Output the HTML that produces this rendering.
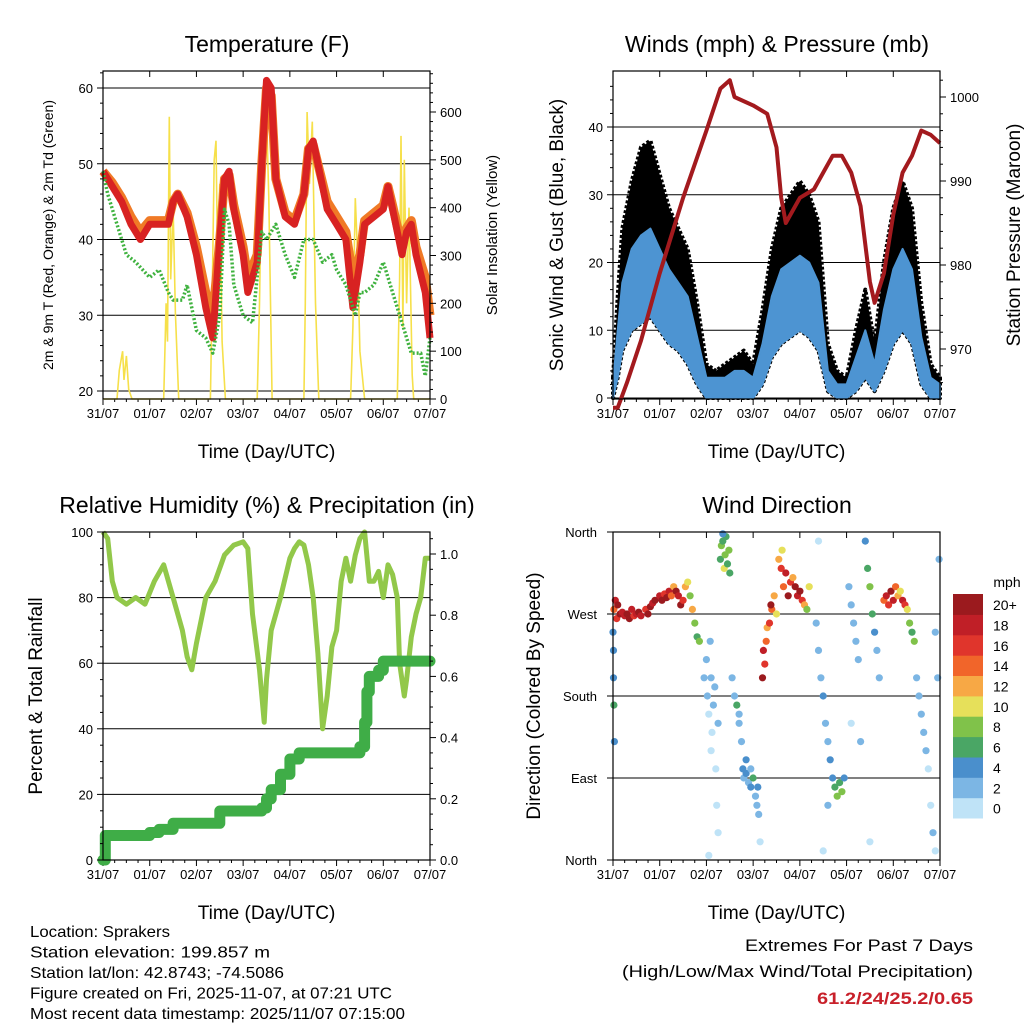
<!DOCTYPE html>
<html><head><meta charset="utf-8"><style>
body{margin:0;background:#fff}
svg{display:block;font-family:"Liberation Sans",sans-serif}
</style></head><body>
<svg id="c" width="1024" height="1024" viewBox="0 0 1024 1024"></svg>
<script>
// ---------- DATA ----------
const dayLabels=["31/07","01/07","02/07","03/07","04/07","05/07","06/07","07/07"];
const tT=[0,0.2,0.4,0.6,0.8,1.0,1.2,1.4,1.5,1.6,1.8,2.0,2.2,2.35,2.5,2.6,2.7,2.8,3.0,3.1,3.3,3.4,3.5,3.6,3.7,3.9,4.1,4.3,4.4,4.5,4.6,4.8,5.0,5.2,5.35,5.5,5.6,5.8,6.0,6.1,6.2,6.4,6.5,6.6,6.7,6.9,7.0];
const temp2m=[49,47,45,42,40,42,42,42,45,46,43,38,31,27,40,48,49,44,38,33,37,50,61,60,48,43,42,46,52,53,50,44,42,40,31,37,42,43,44,47,44,38,41,42,38,33,27];
const temp9m=[49,47.5,45.5,43,41,42.5,42.5,42.5,45,46,43.5,39,33,30,40,48,48.5,44.5,39,35,38,50,60,59,48,43.5,42.5,46,52,52.5,50,45,43,41,35,38,42.5,43.5,44.5,47,44.5,39,41.5,42.5,39,35,30];
const tD=[0,0.1,0.3,0.5,0.7,1.0,1.2,1.4,1.5,1.7,1.8,2.0,2.2,2.35,2.5,2.6,2.7,2.8,3.0,3.2,3.4,3.5,3.7,3.9,4.1,4.3,4.5,4.7,4.9,5.0,5.2,5.4,5.5,5.6,5.8,6.0,6.2,6.4,6.6,6.8,6.9,7.0];
const dewpt=[49,46,42,38,37,35,36,33,32,32,34,28,27,25,30,44,42,34,30,29,41,40,42,38,35,40,40,37,38,36,34,30,33,33,34,37,33,29,25,25,22,27];
const solarT=[0,0.3,0.35,0.42,0.45,0.5,0.55,0.62,1.3,1.35,1.38,1.42,1.45,1.5,1.55,1.62,2.3,2.35,2.38,2.42,2.45,2.5,2.55,2.62,3.3,3.35,3.4,3.45,3.5,3.55,3.62,4.3,4.33,4.37,4.42,4.48,4.55,4.62,5.3,5.35,5.4,5.45,5.5,5.6,6.3,6.35,6.38,6.42,6.45,6.5,6.55,6.62,6.65,7.0];
const solarV=[0,0,60,100,40,90,20,0,0,200,120,590,250,400,180,0,0,300,500,540,300,450,120,0,0,200,500,660,600,420,0,0,200,600,450,580,200,0,0,150,420,300,100,0,0,250,550,150,500,200,400,50,0,0];
const tW=[0,0.1,0.2,0.4,0.6,0.8,1.0,1.2,1.4,1.6,1.8,2.0,2.2,2.4,2.6,2.8,3.0,3.2,3.4,3.6,3.8,4.0,4.2,4.4,4.6,4.8,5.0,5.2,5.4,5.6,5.8,6.0,6.2,6.4,6.6,6.8,7.0];
const gust=[3,15,25,32,37,38,33,28,25,22,14,5,4,5,6,7,5,13,22,28,30,32,30,26,8,4,3,10,16,8,20,28,32,28,14,5,3];
const sonic=[2,10,17,22,24,25,22,19,17,15,9,3,3,3,4,4,3,8,15,19,20,21,20,17,4,2,2,6,10,5,13,19,22,19,9,3,2];
const sonicLow=[0,3,7,10,11,12,10,8,7,5,2,0,0,0,0,0,0,2,6,8,9,10,9,7,1,0,0,1,3,1,4,8,10,8,2,0,0];
const tP=[0,0.1,0.3,0.6,1.0,1.5,2.0,2.3,2.5,2.6,3.0,3.3,3.5,3.6,3.7,3.9,4.0,4.3,4.5,4.7,4.9,5.1,5.3,5.5,5.6,5.8,6.0,6.2,6.4,6.6,6.8,7.0];
const pressure=[963,963,966,971,979,988,996,1001,1002,1000,999,998,994,988,985,987,988,989,991,993,993,991,987,978,975.5,979,986,991,993,996,995.5,994.5];
const tRH=[0,0.1,0.2,0.3,0.5,0.7,0.9,1.1,1.3,1.5,1.7,1.8,1.9,2.0,2.2,2.4,2.6,2.8,3.0,3.1,3.2,3.35,3.45,3.5,3.6,3.8,4.0,4.1,4.2,4.3,4.4,4.5,4.6,4.7,4.8,4.9,5.0,5.1,5.2,5.3,5.4,5.5,5.6,5.7,5.8,5.9,6.0,6.1,6.2,6.3,6.35,6.45,6.5,6.6,6.7,6.8,6.9,7.0];
const rh=[100,98,85,80,78,80,78,85,90,80,70,62,58,66,80,85,93,96,97,95,75,58,42,55,70,80,92,95,97,96,90,80,63,40,50,65,70,85,92,85,93,98,100,85,85,88,80,90,87,80,60,50,55,68,75,80,92,92];
const tRain=[0,0.05,1.0,1.2,1.5,2.0,2.5,3.0,3.4,3.5,3.6,3.8,4.0,4.2,5.0,5.5,5.6,5.65,5.7,5.9,6.0,7.0];
const rain=[0,0.08,0.09,0.1,0.12,0.12,0.16,0.16,0.17,0.2,0.23,0.28,0.33,0.35,0.35,0.37,0.45,0.55,0.6,0.62,0.65,0.65];
const wdT=[0.02,0.05,0.08,0.1,0.15,0.2,0.25,0.3,0.35,0.4,0.45,0.5,0.55,0.6,0.7,0.75,0.8,0.85,0.9,1.0,1.05,1.1,1.15,1.2,1.25,1.3,1.35,1.4,1.45,1.5,1.55,1.6,1.65,1.7,1.75,1.8,1.85,0.01,0.01,0.02,0.03,0.0,1.95,2.0,2.02,2.05,2.08,2.1,2.12,2.15,2.2,2.22,2.25,2.05,2.1,2.18,2.25,2.3,2.32,2.35,2.38,2.4,2.42,2.45,2.48,2.5,2.35,2.55,2.6,2.65,2.7,2.75,2.78,2.8,2.85,2.9,2.95,3.0,3.05,3.08,3.1,3.12,2.85,2.7,2.95,3.15,3.2,3.22,3.25,3.28,3.3,3.35,3.4,3.45,3.5,3.38,3.55,3.6,3.65,3.7,3.75,3.8,3.85,3.9,3.95,4.0,4.05,4.1,4.15,4.2,3.62,4.35,4.4,4.45,4.5,4.55,4.6,4.65,4.7,4.75,4.8,4.85,4.9,4.95,4.4,4.5,4.6,5.05,5.1,5.15,5.2,5.25,5.1,5.3,5.4,5.45,5.5,5.55,5.6,5.65,5.7,5.5,5.8,5.85,5.9,5.95,6.0,6.05,6.1,6.15,6.2,6.25,6.3,6.35,6.4,6.45,6.5,6.55,6.6,6.65,6.7,6.75,6.8,6.85,6.9,6.95,6.98,6.9];
const wdDir=[275,285,265,280,270,272,268,270,265,275,268,270,272,268,275,270,278,282,285,290,285,292,288,295,290,300,295,290,280,285,300,305,290,275,260,245,240,230,200,170,130,250,200,220,180,160,240,200,140,170,100,60,30,5,120,190,150,330,345,350,320,335,355,325,340,315,358,200,180,170,150,130,100,90,95,85,80,90,70,60,80,50,110,160,100,20,200,230,215,240,255,260,275,290,270,280,330,320,300,315,290,305,310,300,290,295,285,280,275,300,340,260,230,200,180,150,130,110,90,80,70,85,75,90,350,10,60,300,280,260,240,220,150,130,350,320,300,270,250,230,200,20,285,290,280,295,285,300,290,295,285,280,275,260,250,240,200,180,160,140,120,100,60,30,10,200,330,250];
const wdSpd=[14,18,16,20,20,19,18,20,20,18,16,19,20,18,16,20,20,18,20,18,20,16,20,18,14,12,20,18,20,16,12,10,8,12,8,6,8,4,4,6,4,4,2,2,2,1,2,3,1,2,1,0,0,0,1,2,2,6,8,6,10,8,6,7,8,6,4,2,3,6,2,2,4,3,4,3,4,6,3,2,4,2,4,3,2,1,20,18,16,14,12,16,14,12,10,20,12,16,14,18,20,16,12,20,18,20,16,12,8,10,10,2,3,2,4,3,2,4,4,6,8,6,8,4,1,1,2,2,3,2,2,2,1,2,4,6,8,6,4,2,2,1,14,18,16,20,18,14,12,10,18,16,10,8,6,8,2,3,2,3,2,1,1,2,1,3,2,2];
const speedLabels=["0","2","4","6","8","10","12","14","16","18","20+"];
const speedColors=["#bfe3f7","#7cb6e4","#4a8fcc","#4aa665","#80c24a","#e6e05a","#f7a845","#f1652a","#e0352c","#c01f27","#9b1a1e"];

// ---------- HELPERS ----------
const NS="http://www.w3.org/2000/svg";
const svg=document.getElementById('c');
function el(tag,attrs,name,parent){
  const e=document.createElementNS(NS,tag);
  for(const k in attrs)e.setAttribute(k,attrs[k]);
  
  
  (parent||svg).appendChild(e);return e;
}
function txt(x,y,s,size,anchor,name,extra){
  const a=Object.assign({x:x,y:y,'font-size':size,'text-anchor':anchor||'middle',fill:'#000'},extra||{});
  const t=el('text',a,name);t.textContent=s;return t;
}
function lin(d0,d1,r0,r1){return v=>r0+(v-d0)*(r1-r0)/(d1-d0);}
function pathOf(xs,ys,fx,fy){return xs.map((t,i)=>(i?'L':'M')+fx(t).toFixed(1)+' '+fy(ys[i]).toFixed(1)).join(' ');}
function areaOf(xs,hi,lo,fx,fy){
  let d=xs.map((t,i)=>(i?'L':'M')+fx(t).toFixed(1)+' '+fy(hi[i]).toFixed(1)).join(' ');
  for(let i=xs.length-1;i>=0;i--)d+='L'+fx(xs[i]).toFixed(1)+' '+fy(lo[i]).toFixed(1);
  return d+'Z';
}
function stepPath(xs,ys,fx,fy){let d='';xs.forEach((t,i)=>{d+=(i?'L'+fx(t).toFixed(1)+' '+fy(ys[i-1]).toFixed(1)+'L':'M')+fx(t).toFixed(1)+' '+fy(ys[i]).toFixed(1);});return d;}

function panel(x0,y0,x1,y1,title,titleX,key){
  const fx=lin(0,7,x0,x1);
  for(let d=0;d<=7;d++){
    el('line',{x1:fx(d),y1:y1,x2:fx(d),y2:y1+6,stroke:'#000','stroke-width':1},key+'-x-tick');
    el('line',{x1:fx(d),y1:y0,x2:fx(d),y2:y0+6,stroke:'#000','stroke-width':1},key+'-x-tick-top');
    txt(fx(d),y1+19,dayLabels[d],13,'middle',key+'-x-tick-label');
    if(d<7)for(let m=1;m<4;m++){const xx=fx(d+m/4);
      el('line',{x1:xx,y1:y1,x2:xx,y2:y1+3,stroke:'#000'},key+'-x-minor-tick');}
  }
  txt((x0+x1)/2,y1+59,'Time (Day/UTC)',19,'middle',key+'-x-axis-title');
  txt(titleX,y0-19,title,23,'middle',key+'-title');
  return fx;
}
function box(x0,y0,x1,y1,key){el('rect',{x:x0,y:y0,width:x1-x0,height:y1-y0,fill:'none',stroke:'#000','stroke-width':1.2},key+'-plot-frame');}
function yAxis(x,fy,ticks,labels,side,key,minor){
  const s=side==='left'?-1:1;
  ticks.forEach((v,i)=>{
    el('line',{x1:x,y1:fy(v),x2:x+s*6,y2:fy(v),stroke:'#000'},key+'-tick');
    txt(x+s*10,fy(v)+5,labels[i],13,side==='left'?'end':'start',key+'-tick-label');
  });
  (minor||[]).forEach(v=>el('line',{x1:x,y1:fy(v),x2:x+s*3,y2:fy(v),stroke:'#000'},key+'-minor-tick'));
}
function grid(x0,x1,fy,ticks,key){ticks.forEach(v=>el('line',{x1:x0,x2:x1,y1:fy(v),y2:fy(v),stroke:'#000','stroke-width':1},key+'-gridline'));}

// ---------- PANEL 1: TEMPERATURE ----------
{
const X0=103,X1=430,Y0=71,Y1=399;
const fx=panel(X0,Y0,X1,Y1,'Temperature (F)',267,'temperature');
const fy=lin(20,60,391,88);
const fs=lin(0,600,399,112);
grid(X0,X1,fy,[20,30,40,50,60],'temperature');
el('path',{d:pathOf(solarT,solarV,fx,fs),fill:'none',stroke:'#f6e04a','stroke-width':1.6},'solar-insolation-line');
el('path',{d:pathOf(tT,temp9m,fx,fy),fill:'none',stroke:'#f07a26','stroke-width':9,'stroke-linejoin':'round'},'temp-9m-line');
el('path',{d:pathOf(tT,temp2m,fx,fy),fill:'none',stroke:'#d82222','stroke-width':7,'stroke-linejoin':'round'},'temp-2m-line');
el('path',{d:pathOf(tD,dewpt,fx,fy),fill:'none',stroke:'#3fb23f','stroke-width':3.5,'stroke-dasharray':'2 2','stroke-linejoin':'round'},'dewpoint-line');
box(X0,Y0,X1,Y1,'temperature');
yAxis(X0,fy,[20,30,40,50,60],['20','30','40','50','60'],'left','temperature-y',[22,24,26,28,32,34,36,38,42,44,46,48,52,54,56,58,62]);
const sm=[];for(let v=20;v<=680;v+=20)if(v%100)sm.push(v);
yAxis(X1,fs,[0,100,200,300,400,500,600],['0','100','200','300','400','500','600'],'right','solar-y',sm);
txt(0,0,'2m & 9m T (Red, Orange) & 2m Td (Green)',14,'middle','temperature-y-axis-title',{transform:'translate(53,235) rotate(-90)'});
txt(0,0,'Solar Insolation (Yellow)',15,'middle','solar-y-axis-title',{transform:'translate(497,235) rotate(-90)'});
}

// ---------- PANEL 2: WINDS ----------
{
const X0=613,X1=940,Y0=71,Y1=399;
const fx=panel(X0,Y0,X1,Y1,'Winds (mph) & Pressure (mb)',777,'winds');
const fy=lin(0,40,398,127);
const fp=lin(970,1000,349,97);
grid(X0,X1,fy,[0,10,20,30,40],'winds');
el('path',{d:areaOf(tW,gust,sonicLow,fx,fy),fill:'#000',stroke:'#000','stroke-width':4,'stroke-linejoin':'round','stroke-dasharray':'3 2'},'gust-points');
el('path',{d:areaOf(tW,sonic,sonicLow,fx,fy),fill:'#4d94d2',stroke:'#4d94d2','stroke-width':2,'stroke-linejoin':'round'},'sonic-wind-band');
el('path',{d:pathOf(tP,pressure,fx,fp),fill:'none',stroke:'#a31a1e','stroke-width':4,'stroke-linejoin':'round'},'pressure-line');
box(X0,Y0,X1,Y1,'winds');
yAxis(X0,fy,[0,10,20,30,40],['0','10','20','30','40'],'left','wind-y',[2,4,6,8,12,14,16,18,22,24,26,28,32,34,36,38,42,44,46]);
yAxis(X1,fp,[970,980,990,1000],['970','980','990','1000'],'right','pressure-y',[966,968,972,974,976,978,982,984,986,988,992,994,996,998,1002]);
txt(0,0,'Sonic Wind & Gust (Blue, Black)',19,'middle','wind-y-axis-title',{transform:'translate(563,235) rotate(-90)'});
txt(0,0,'Station Pressure (Maroon)',19,'middle','pressure-y-axis-title',{transform:'translate(1020,235) rotate(-90)'});
}

// ---------- PANEL 3: RH & PRECIP ----------
{
const X0=103,X1=430,Y0=532,Y1=860;
const fx=panel(X0,Y0,X1,Y1,'Relative Humidity (%) & Precipitation (in)',267,'humidity');
const fy=lin(0,100,860,532);
const fr=lin(0,1,860,554);
grid(X0,X1,fy,[0,20,40,60,80,100],'humidity');
el('path',{d:pathOf(tRH,rh,fx,fy),fill:'none',stroke:'#92c84a','stroke-width':5,'stroke-linejoin':'round'},'relative-humidity-line');
el('path',{d:stepPath(tRain,rain,fx,fr),fill:'none',stroke:'#3fad47','stroke-width':11,'stroke-linejoin':'round','stroke-linecap':'round'},'precipitation-line');
box(X0,Y0,X1,Y1,'humidity');
yAxis(X0,fy,[0,20,40,60,80,100],['0','20','40','60','80','100'],'left','humidity-y',[5,10,15,25,30,35,45,50,55,65,70,75,85,90,95]);
yAxis(X1,fr,[0,0.2,0.4,0.6,0.8,1.0],['0.0','0.2','0.4','0.6','0.8','1.0'],'right','rain-y',[0.05,0.1,0.15,0.25,0.3,0.35,0.45,0.5,0.55,0.65,0.7,0.75,0.85,0.9,0.95,1.05]);
txt(0,0,'Percent & Total Rainfall',19,'middle','humidity-y-axis-title',{transform:'translate(42,696) rotate(-90)'});
}

// ---------- PANEL 4: WIND DIRECTION ----------
{
const X0=613,X1=940,Y0=532,Y1=860;
const fx=panel(X0,Y0,X1,Y1,'Wind Direction',777,'direction');
const fy=lin(0,360,860,532);
grid(X0,X1,fy,[90,180,270],'direction');
wdT.forEach((t,i)=>{
  const b=Math.min(10,Math.floor(wdSpd[i]/2));
  el('circle',{cx:fx(t).toFixed(1),cy:fy(wdDir[i]).toFixed(1),r:3.6,fill:speedColors[b]},'wind-direction-point');
});
box(X0,Y0,X1,Y1,'direction');
const dl=['North','East','South','West','North'];
[0,90,180,270,360].forEach((v,i)=>{
  el('line',{x1:X0,y1:fy(v),x2:X0-6,y2:fy(v),stroke:'#000'},'direction-y-tick');
  txt(X0-16,fy(v)+5,dl[i],13,'end','direction-y-tick-label');
});
txt(0,0,'Direction (Colored By Speed)',19,'middle','direction-y-axis-title',{transform:'translate(540,696) rotate(-90)'});
txt(1007,587,'mph',14,'middle','colorbar-unit-label');
const cb=el('g',{},'speed-colorbar');
for(let i=0;i<11;i++){
  const y=818-(i+1)*20.36;
  el('rect',{x:953,y:y.toFixed(1),width:30,height:20.9,fill:speedColors[i]},'colorbar-swatch',cb);
  txt(993,y+16,speedLabels[i],14,'start','colorbar-label');
}
}

// ---------- FOOTER TEXT ----------
const info=['Location: Sprakers','Station elevation: 199.857 m','Station lat/lon: 42.8743; -74.5086','Figure created on Fri, 2025-11-07, at 07:21 UTC','Most recent data timestamp: 2025/11/07 07:15:00'];
const infoW=[140,240,254,362,375];
info.forEach((s,i)=>txt(30,937+i*20.5,s,16,'start','station-info-line',{textLength:infoW[i],lengthAdjust:'spacingAndGlyphs'}));
txt(973,951,'Extremes For Past 7 Days',17,'end','extremes-title',{textLength:228,lengthAdjust:'spacingAndGlyphs'});
txt(973,977,'(High/Low/Max Wind/Total Precipitation)',17,'end','extremes-subtitle',{textLength:351,lengthAdjust:'spacingAndGlyphs'});
txt(973,1004,'61.2/24/25.2/0.65',17,'end','extremes-values',{fill:'#c8202a','font-weight':'bold',textLength:156,lengthAdjust:'spacingAndGlyphs'});
</script>
</body></html>
